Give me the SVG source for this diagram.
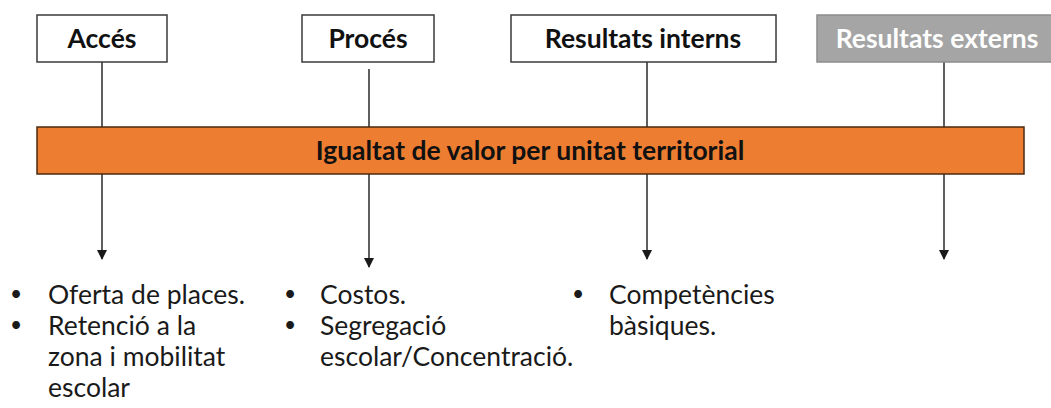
<svg xmlns="http://www.w3.org/2000/svg" width="1051" height="408" viewBox="0 0 1051 408">
  <defs>
    <marker id="arr" markerWidth="10" markerHeight="10" refX="9" refY="5" orient="auto" markerUnits="userSpaceOnUse">
      <path d="M0,0 L10,5 L0,10 z" fill="#1a1a1a"/>
    </marker>
    <style>
      .box { fill: #ffffff; stroke: #3a3a3a; stroke-width: 1.5; }
      .gbox { fill: #a5a5a5; stroke: #8c8c8c; stroke-width: 1.5; }
      .bar { fill: #ed7d31; stroke: #4a2a10; stroke-width: 1.5; }
      .hd { font-family: Lato, "Open Sans", sans-serif; font-weight: bold; font-size: 26.5px; fill: #111; text-anchor: middle; }
      .wh { fill: #ffffff; }
      .ln { stroke: #2a2a2a; stroke-width: 1.5; fill: none; }
      .tx { font-family: Lato, "Open Sans", sans-serif; font-size: 26.5px; fill: #1a1a1a; }
      .bu { font-size: 21px; text-anchor: middle; }
    </style>
  </defs>
  <rect width="1051" height="408" fill="#ffffff"/>
  <g id="connectors">
    <line class="ln" x1="102" y1="62" x2="102" y2="127"/>
    <line class="ln" x1="369" y1="69" x2="369" y2="127"/>
    <line class="ln" x1="647" y1="62" x2="647" y2="127"/>
    <line class="ln" x1="944" y1="62" x2="944" y2="127"/>
    <line class="ln" x1="102" y1="174" x2="102" y2="259" marker-end="url(#arr)"/>
    <line class="ln" x1="369" y1="174" x2="369" y2="267" marker-end="url(#arr)"/>
    <line class="ln" x1="647" y1="174" x2="647" y2="259" marker-end="url(#arr)"/>
    <line class="ln" x1="944" y1="174" x2="944" y2="259" marker-end="url(#arr)"/>
  </g>
  <g id="acces">
    <rect class="box" x="37" y="15" width="130" height="47"/>
    <text class="hd" x="102" y="48">Accés</text>
  </g>
  <g id="proces">
    <rect class="box" x="302" y="15" width="132" height="47"/>
    <text class="hd" x="368" y="48">Procés</text>
  </g>
  <g id="resultats-interns">
    <rect class="box" x="511" y="15" width="265" height="47"/>
    <text class="hd" x="643" y="48">Resultats interns</text>
  </g>
  <g id="resultats-externs">
    <rect class="gbox" x="817" y="15" width="240" height="47"/>
    <text class="hd wh" x="937" y="48">Resultats externs</text>
  </g>
  <g id="igualtat">
    <rect class="bar" x="37" y="127" width="987" height="47"/>
    <text class="hd" x="530" y="160">Igualtat de valor per unitat territorial</text>
  </g>
  <g id="list-acces" class="tx">
    <text class="bu" x="16" y="301">•</text>
    <text x="48" y="304">Oferta de places.</text>
    <text class="bu" x="16" y="332">•</text>
    <text x="48" y="335">Retenció a la</text>
    <text x="48" y="366">zona i mobilitat</text>
    <text x="48" y="397">escolar</text>
  </g>
  <g id="list-proces" class="tx">
    <text class="bu" x="290" y="301">•</text>
    <text x="320" y="304">Costos.</text>
    <text class="bu" x="290" y="332">•</text>
    <text x="320" y="335">Segregació</text>
    <text x="320" y="366">escolar/Concentració.</text>
  </g>
  <g id="list-interns" class="tx">
    <text class="bu" x="578" y="301">•</text>
    <text x="609" y="304">Competències</text>
    <text x="609" y="335">bàsiques.</text>
  </g>
</svg>
